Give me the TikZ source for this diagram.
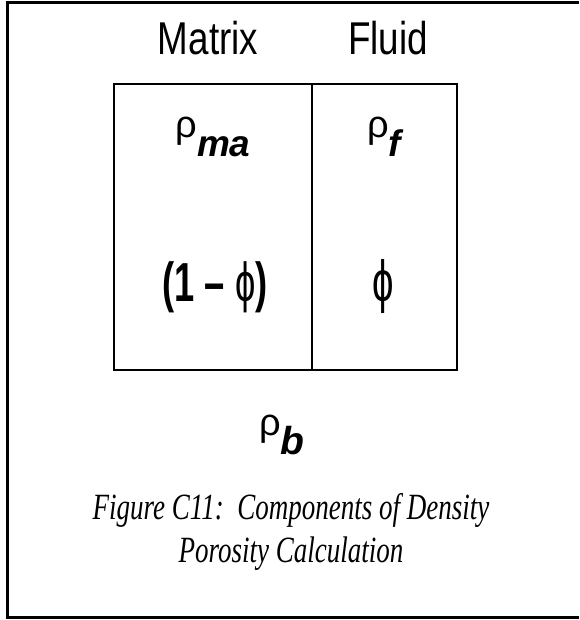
\documentclass[tikz,border=0pt]{standalone}
\usepackage{fontspec}
\setmainfont{Liberation Sans}
\newfontfamily\capfont{Liberation Serif}
\newfontfamily\grk{Liberation Sans}
\begin{document}
\begin{tikzpicture}[x=1pt,y=1pt,
  frameline/.style={line width=3pt},
  boxline/.style={line width=2.5pt},
  head/.style={font=\fontsize{46}{46}\selectfont, xscale=0.8, anchor=base},
  cell/.style={anchor=base},
  narrowcell/.style={anchor=base, xscale=0.66},
  caption/.style={font=\capfont\itshape\fontsize{37}{37}\selectfont, xscale=0.73, anchor=base}]
\useasboundingbox (0,0) rectangle (579,620);
% outer frame (open on the right)
\coordinate (fTR) at (579,617);
\coordinate (fTL) at (7,617);
\coordinate (fBL) at (7,2);
\coordinate (fBR) at (579,2);
\draw[frameline] (fTR) -- (fTL) -- (fBL) -- (fBR);
% box
\coordinate (bTL) at (114,536);
\coordinate (bBR) at (457,250);
\coordinate (dT) at (312,536);
\coordinate (dB) at (312,250);
\draw[boxline] (bTL) rectangle (bBR);
\draw[line width=2pt] (dT) -- (dB);
% headers
\node[head] (matrix) at (208,565) {Matrix};
\node[head] (fluid) at (388,565) {Fluid};
% cells
\node[cell] (rhoma) at (213,482) {{\fontsize{38}{38}\selectfont ρ}\raisebox{-19pt}{\fontsize{37}{37}\selectfont\bfseries\itshape ma}};
\node[cell] (rhof) at (384,482) {{\fontsize{38}{38}\selectfont ρ}\raisebox{-19pt}{\fontsize{37}{37}\selectfont\bfseries\itshape f}};
\node[narrowcell] (onemphi) at (215,318) {\fontsize{55}{55}\selectfont\bfseries (1 – {\mdseries\grk ϕ})};
\node[narrowcell] (phi) at (383,318) {\fontsize{58}{58}\selectfont\grk ϕ};
% rho_b
\node[cell] (rhob) at (282,184) {{\fontsize{38}{38}\selectfont ρ}\raisebox{-19pt}{\fontsize{39}{39}\selectfont\bfseries\itshape b}};
% caption
\node[caption] (cap1) at (291,100) {Figure C11:\ \ Components of Density};
\node[caption] (cap2) at (291,57) {Porosity Calculation};
\end{tikzpicture}
\end{document}
